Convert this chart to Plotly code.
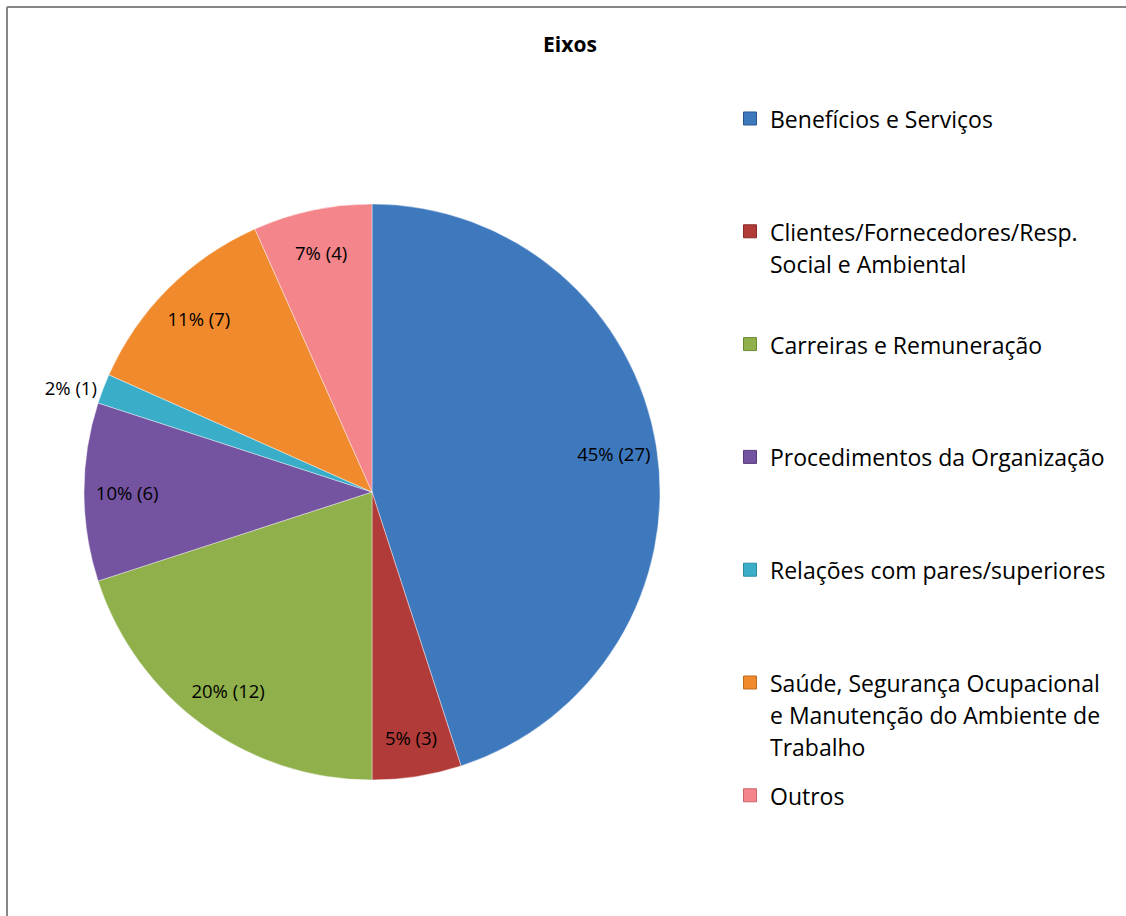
import plotly.graph_objects as go

labels = [
    "Benefícios e Serviços",
    "Clientes/Fornecedores/Resp.<br>Social e Ambiental",
    "Carreiras e Remuneração",
    "Procedimentos da Organização",
    "Relações com pares/superiores",
    "Saúde, Segurança Ocupacional<br>e Manutenção do Ambiente de<br>Trabalho",
    "Outros",
]
values = [27, 3, 12, 6, 1, 7, 4]
pct_labels = ["45%", "5%", "20%", "10%", "2%", "11%", "7%"]
colors = ["#3E79BE", "#B13B38", "#8FB04A", "#7453A0", "#3AAEC8", "#F08A2C", "#F4858B"]
edges = ["#2A5690", "#8A2A28", "#6C8A33", "#563B7E", "#2B8AA0", "#C06A1E", "#C9636A"]

W, H = 1126, 916
FONT = "Open Sans"
dom = dict(x=[84 / W, 660 / W], y=[1 - 780.5 / H, 1 - 203.5 / H])
flat_labels = [l.replace("<br>", " ") for l in labels]

fig = go.Figure()

# the coloured pie itself
fig.add_trace(go.Pie(
    labels=flat_labels, values=values,
    textinfo="none",
    marker=dict(colors=colors, line=dict(color="rgba(255,255,255,0.4)", width=1)),
    sort=False, direction="clockwise", rotation=0,
    showlegend=False, hoverinfo="label+value+percent",
    domain=dom,
))

# transparent ring on top, only to put the labels near the outer edge
fig.add_trace(go.Pie(
    labels=flat_labels, values=values,
    text=pct_labels,
    texttemplate="%{text} (%{value})",
    textposition=["inside", "inside", "inside", "inside", "outside", "inside", "inside"],
    insidetextorientation="horizontal",
    textfont=dict(family=FONT, size=18.5, color="black"),
    hole=0.7,
    marker=dict(colors=["rgba(0,0,0,0)"] * len(values), line=dict(width=0)),
    sort=False, direction="clockwise", rotation=0,
    showlegend=False, hoverinfo="skip",
    domain=dom,
))

# one legend per category so the entries can be spaced like the original
legend_layouts = {}
for i, (lab, c, e) in enumerate(zip(labels, colors, edges)):
    key = "legend" if i == 0 else f"legend{i + 1}"
    txt = "<br>".join(f"<span style='font-size:23px'>{part}</span>" for part in lab.split("<br>"))
    fig.add_trace(go.Scatter(
        x=[None], y=[None], mode="markers", name=txt,
        marker=dict(symbol="square", size=13, color=c, line=dict(color=e, width=1)),
        legend=key, hoverinfo="skip",
    ))
    top = 121 + i * 112.8 - 25
    legend_layouts[key] = dict(
        x=730 / W, xanchor="left", y=1 - top / H, yanchor="top",
        font=dict(family=FONT, size=24.6, color="black"),
        bgcolor="rgba(0,0,0,0)", valign="top", itemclick=False, itemdoubleclick=False,
    )

border = dict(color="#868686", width=2)
fig.update_layout(
    width=W, height=H, autosize=False,
    margin=dict(l=0, r=0, t=0, b=0),
    paper_bgcolor="white", plot_bgcolor="white",
    font=dict(family=FONT, color="black"),
    uniformtext=dict(minsize=18.5, mode="show"),
    title=dict(text="<b>Eixos</b>", x=570 / W, xanchor="center",
               y=1 - 45 / H, yanchor="middle", yref="paper",
               font=dict(family=FONT, size=21, color="black")),
    xaxis=dict(visible=False), yaxis=dict(visible=False),
    shapes=[
        dict(type="line", xref="paper", yref="paper", x0=7 / W, x1=1, y0=1 - 7 / H, y1=1 - 7 / H,
             line=border, layer="below"),
        dict(type="line", xref="paper", yref="paper", x0=7 / W, x1=7 / W, y0=0, y1=1 - 7 / H,
             line=border, layer="below"),
    ],
    **legend_layouts,
)

fig.write_html(
    "out.html", config={"displayModeBar": False},
    post_script="document.body.style.margin='0';"
                "document.body.style.overflow='hidden';"
                "document.documentElement.style.overflow='hidden';",
)
